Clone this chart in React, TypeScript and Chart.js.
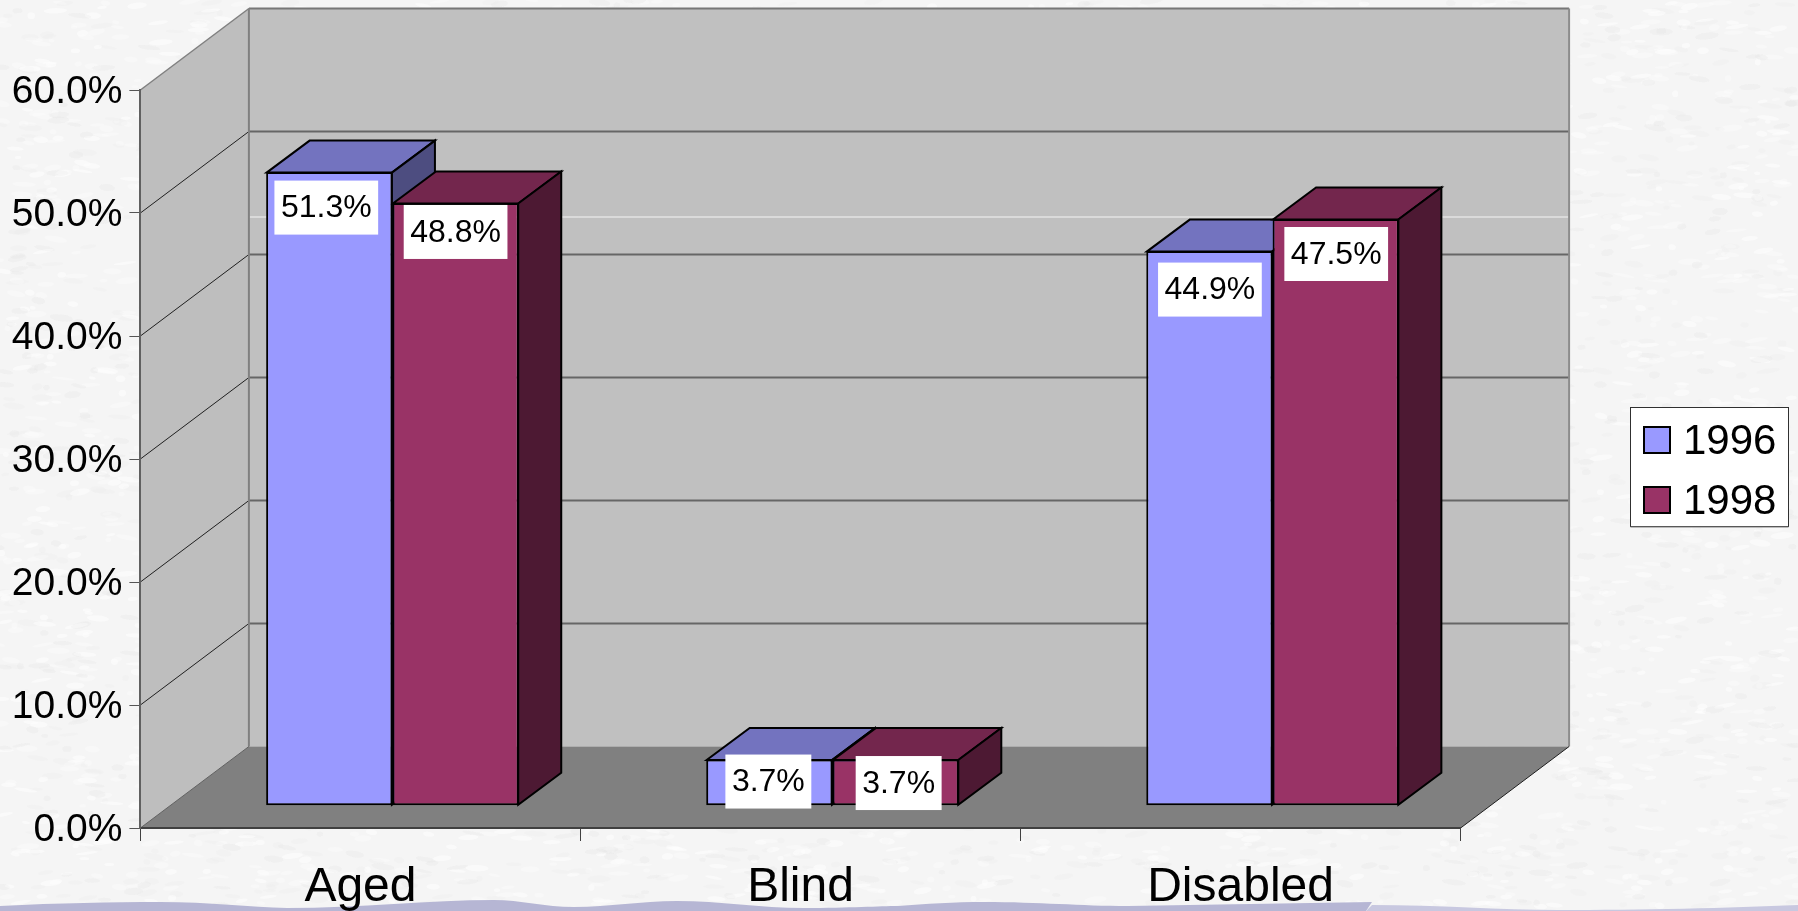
import React, { useEffect, useRef } from "react";
import { Chart, registerables } from "chart.js";

Chart.register(...registerables);

const categories = ["Aged", "Blind", "Disabled"];
const series1996 = [51.3, 3.7, 44.9];
const series1998 = [48.8, 3.7, 47.5];
const seriesNames = ["1996", "1998"];
const faceColors = ["#9999FF", "#993366"];
const topColors = ["#7373BF", "#73264D"];
const sideColors = ["#4D4D80", "#4D1933"];
const valueText = (v: number) => v.toFixed(1) + "%";

const FONT = "'Liberation Sans', Arial, sans-serif";
const DEPTH_X = 108.5;
const DEPTH_Y = 81.5;
const BAR_SHIFT_X = 32;
const BAR_SHIFT_Y = 22.8;
const BAR_DEPTH_X = 43;
const BAR_DEPTH_Y = 32;

// Nudges of the value labels relative to each bar's centre and top: [dataset][category] = [dx, dy]
const labelNudges = [
  [[-3, 35.5], [-1, 22], [0.5, 38.5]],
  [[0, 29], [3, 23.5], [0.5, 35]],
];

const poly = (ctx: CanvasRenderingContext2D, pts: number[][], fill?: string, stroke?: string, lw = 1) => {
  ctx.beginPath();
  pts.forEach((p, i) => (i ? ctx.lineTo(p[0], p[1]) : ctx.moveTo(p[0], p[1])));
  ctx.closePath();
  if (fill) {
    ctx.fillStyle = fill;
    ctx.fill();
  }
  if (stroke) {
    ctx.strokeStyle = stroke;
    ctx.lineWidth = lw;
    ctx.lineJoin = "miter";
    ctx.stroke();
  }
};
const line = (ctx: CanvasRenderingContext2D, x1: number, y1: number, x2: number, y2: number, c: string, w: number) => {
  ctx.beginPath();
  ctx.moveTo(x1, y1);
  ctx.lineTo(x2, y2);
  ctx.strokeStyle = c;
  ctx.lineWidth = w;
  ctx.stroke();
};

// faint paper grain of the slide background, from a fixed integer sequence
const paperGrain = (ctx: CanvasRenderingContext2D, width: number, height: number) => {
  let s = 12345;
  const next = () => {
    s = (s * 1103515245 + 12345) & 0x7fffffff;
    return s / 0x7fffffff;
  };
  for (let i = 0; i < 9000; i++) {
    const x = next() * width;
    const y = next() * height;
    const len = 3 + next() * 9;
    const light = next() > 0.4;
    ctx.fillStyle = light ? "rgba(255,255,255,0.28)" : "rgba(232,232,232,0.16)";
    ctx.beginPath();
    ctx.ellipse(x, y, len, 1.5 + next() * 2, -0.2 + next() * 0.4, 0, Math.PI * 2);
    ctx.fill();
  }
};

const scenePlugin = {
  id: "scene",
  beforeDraw(chart: any) {
    const { ctx, chartArea: a, scales, width, height } = chart;
    const y = scales.y;
    ctx.save();
    ctx.fillStyle = "#F5F5F5";
    ctx.fillRect(0, 0, width, height);
    paperGrain(ctx, width, height);

    // slide's wavy band along the bottom edge
    ctx.fillStyle = "#B6B6D4";
    ctx.beginPath();
    ctx.moveTo(0, 911);
    ctx.lineTo(0, 906);
    ctx.bezierCurveTo(60, 903, 110, 902, 160, 902);
    ctx.bezierCurveTo(210, 902, 250, 907, 287, 908);
    ctx.bezierCurveTo(360, 908, 430, 900, 494, 900);
    ctx.bezierCurveTo(520, 900, 545, 907, 574, 907);
    ctx.bezierCurveTo(610, 907, 640, 901, 677, 901);
    ctx.bezierCurveTo(720, 901, 760, 908, 804, 908);
    ctx.bezierCurveTo(850, 908, 880, 906, 898, 906);
    ctx.bezierCurveTo(925, 904, 955, 902, 984, 902);
    ctx.bezierCurveTo(1040, 902, 1080, 906, 1128, 906);
    ctx.lineTo(1372, 902);
    ctx.lineTo(1366, 911);
    ctx.closePath();
    ctx.fill();
    ctx.fillStyle = "#C8C8E0";
    ctx.beginPath();
    ctx.moveTo(1366, 911);
    ctx.lineTo(1372, 905);
    ctx.bezierCurveTo(1440, 905, 1500, 910, 1558, 910);
    ctx.bezierCurveTo(1640, 910, 1730, 908, 1798, 905);
    ctx.lineTo(1798, 911);
    ctx.closePath();
    ctx.fill();

    const top = y.getPixelForValue(60);
    const bottom = y.getPixelForValue(0);
    const bl = a.left + DEPTH_X;
    const br = a.right + DEPTH_X;

    // back wall, left wall, floor
    poly(ctx, [[bl, top - DEPTH_Y], [br, top - DEPTH_Y], [br, bottom - DEPTH_Y], [bl, bottom - DEPTH_Y]], "#C0C0C0");
    poly(ctx, [[a.left, bottom], [a.left, top], [bl, top - DEPTH_Y], [bl, bottom - DEPTH_Y]], "#BEBEBE");

    // stray white rule on the back wall
    line(ctx, bl, 217, br, 217, "#F4F4F4", 1);

    // gridlines on both walls
    y.ticks.forEach((t: any) => {
      if (t.value === 0) return;
      const py = y.getPixelForValue(t.value);
      const isTop = t.value === 60;
      line(ctx, a.left, py, bl, py - DEPTH_Y, isTop ? "#808080" : "#202020", isTop ? 1.5 : 1);
      line(ctx, bl, py - DEPTH_Y, br, py - DEPTH_Y, isTop ? "#777777" : "#666666", 2);
    });
    line(ctx, bl, top - DEPTH_Y, bl, bottom - DEPTH_Y, "#808080", 2);
    line(ctx, br, top - DEPTH_Y, br, bottom - DEPTH_Y, "#8C8C8C", 2);

    poly(ctx, [[a.left, bottom], [a.right, bottom], [br, bottom - DEPTH_Y], [bl, bottom - DEPTH_Y]], "#808080");
    line(ctx, a.right, bottom, br, bottom - DEPTH_Y, "#202020", 1);
    line(ctx, a.left, bottom, bl, bottom - DEPTH_Y, "#606060", 1);
    ctx.restore();
  },
  beforeDatasetsDraw(chart: any) {
    const { ctx } = chart;
    ctx.save();
    ctx.translate(BAR_SHIFT_X, -BAR_SHIFT_Y);
    // top and side of each bar, left to right, under the native faces
    categories.forEach((_, i) => {
      [0, 1].forEach((ds) => {
        const el = chart.getDatasetMeta(ds).data[i];
        const l = el.x - el.width / 2 + 0.5;
        const r = el.x + el.width / 2 - 0.5;
        const t = el.y + 0.5;
        const b = el.base - 0.5;
        poly(ctx, [[l, t], [r, t], [r + BAR_DEPTH_X, t - BAR_DEPTH_Y], [l + BAR_DEPTH_X, t - BAR_DEPTH_Y]], topColors[ds], "#000", 2);
        poly(ctx, [[r, t], [r + BAR_DEPTH_X, t - BAR_DEPTH_Y], [r + BAR_DEPTH_X, b - BAR_DEPTH_Y], [r, b]], sideColors[ds], "#000", 2);
      });
    });
  },
  afterDatasetsDraw(chart: any) {
    const { ctx } = chart;
    ctx.restore();
    ctx.save();
    ctx.font = `32px ${FONT}`;
    ctx.textAlign = "center";
    ctx.textBaseline = "middle";
    [0, 1].forEach((ds) => {
      chart.getDatasetMeta(ds).data.forEach((el: any, i: number) => {
        const text = valueText(chart.data.datasets[ds].data[i]);
        const w = ctx.measureText(text).width + 13;
        const h = 54;
        const cx = el.x + BAR_SHIFT_X + labelNudges[ds][i][0];
        const cy = el.y - BAR_SHIFT_Y + labelNudges[ds][i][1];
        ctx.fillStyle = "#FFFFFF";
        ctx.fillRect(cx - w / 2, cy - h / 2, w, h);
        ctx.fillStyle = "#000000";
        ctx.fillText(text, cx, cy + 1);
      });
    });
    ctx.restore();
  },
  afterDraw(chart: any) {
    const { ctx } = chart;
    ctx.save();
    // legend box
    const lx = 1630.5;
    const ly = 407.5;
    const lw = 158;
    const lh = 119;
    ctx.fillStyle = "#FFFFFF";
    ctx.fillRect(lx, ly, lw, lh);
    ctx.strokeStyle = "#303030";
    ctx.lineWidth = 1;
    ctx.strokeRect(lx, ly, lw, lh);
    line(ctx, lx, ly + lh + 0.5, lx + lw, ly + lh + 0.5, "#808080", 1);
    ctx.font = `42px ${FONT}`;
    ctx.textAlign = "left";
    ctx.textBaseline = "middle";
    chart.data.datasets.forEach((d: any, i: number) => {
      const rowY = 440 + i * 60;
      ctx.fillStyle = d.backgroundColor;
      ctx.fillRect(1644, rowY - 13, 26, 26);
      ctx.strokeStyle = "#000";
      ctx.lineWidth = 2;
      ctx.strokeRect(1644, rowY - 13, 26, 26);
      ctx.fillStyle = "#000";
      ctx.fillText(d.label, 1683, rowY + 2);
    });
    ctx.restore();
  },
};

export default function App() {
  const ref = useRef<HTMLCanvasElement>(null);
  useEffect(() => {
    document.body.style.margin = "0";
    const chart = new Chart(ref.current as HTMLCanvasElement, {
      type: "bar",
      data: {
        labels: categories,
        datasets: [series1996, series1998].map((data, i) => ({
          label: seriesNames[i],
          data,
          yAxisID: "barDepth",
          backgroundColor: faceColors[i],
          borderColor: "#000000",
          borderWidth: 2,
          borderSkipped: false,
          categoryPercentage: 0.574,
          barPercentage: 1,
          clip: false,
        })),
      } as any,
      options: {
        animation: false,
        responsive: false,
        layout: { padding: { top: 90, right: 337.4, bottom: 0, left: 0 } },
        plugins: { legend: { display: false }, tooltip: { enabled: false }, title: { display: false } },
        scales: {
          x: {
            offset: true,
            afterFit: (s: any) => {
              s.height = 83;
            },
            grid: { offset: true, drawOnChartArea: false, tickLength: 13, tickColor: "#404040", tickWidth: 1 },
            border: { color: "#404040", width: 2 },
            ticks: { font: { family: FONT, size: 48 }, color: "#000", padding: 18, maxRotation: 0, autoSkip: false },
          },
          y: {
            min: 0,
            max: 60,
            afterFit: (s: any) => {
              s.width = 140.4;
            },
            grid: { drawOnChartArea: false, tickLength: 11, tickColor: "#555555", tickWidth: 1 },
            border: { color: "#606060", width: 2 },
            ticks: {
              stepSize: 10,
              font: { family: FONT, size: 39 },
              color: "#000",
              padding: 7,
              labelOffset: 2,
              callback: (v: any) => valueText(Number(v)),
            },
          },
          // The bars stand further back in the 3-D box, where the scale reads slightly larger
          barDepth: { display: false, min: 0, max: 59.8, position: "left" },
        },
      } as any,
      plugins: [scenePlugin],
    });
    return () => chart.destroy();
  }, []);
  return <canvas ref={ref} width={1798} height={911} style={{ display: "block", position: "fixed", left: 0, top: 0 }} />;
}
